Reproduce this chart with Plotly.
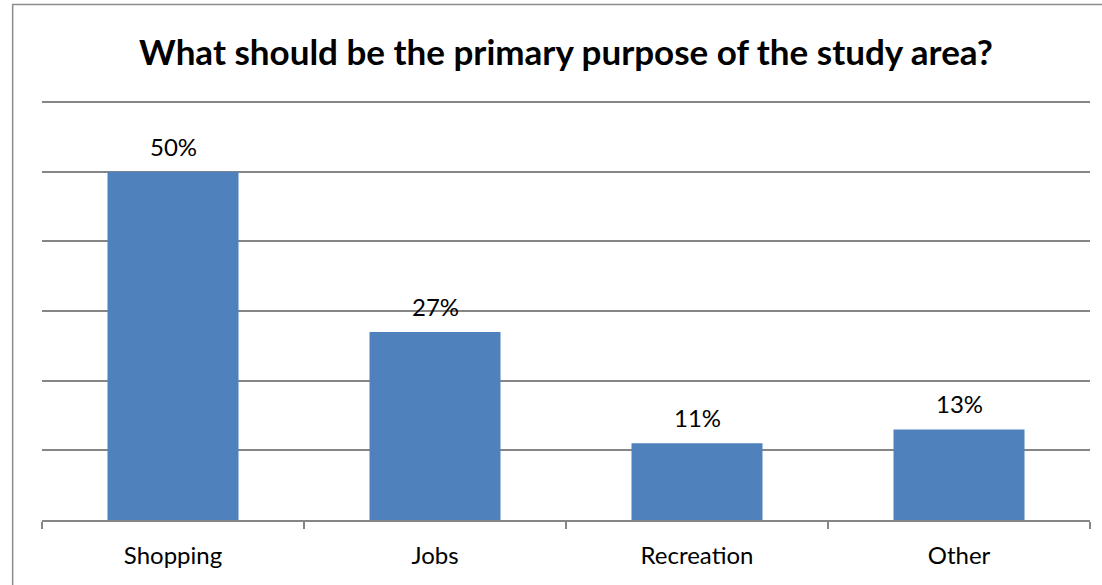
import plotly.graph_objects as go

categories = ["Shopping", "Jobs", "Recreation", "Other"]
shares = [50, 27, 11, 13]
value_labels = ["50%", "27%", "11%", "13%"]

BAR_COLOR = "#4F81BD"
GRID_COLOR = "#868686"
FONT = "Lato"

fig = go.Figure(
    go.Bar(
        x=categories,
        y=shares,
        marker=dict(color=BAR_COLOR, line=dict(width=0)),
        width=0.5,
        hoverinfo="skip",
    )
)

# value labels above each bar
for cat, val, txt in zip(categories, shares, value_labels):
    fig.add_annotation(
        x=cat, y=val, text=txt, showarrow=False,
        yanchor="bottom", yshift=9,
        font=dict(family=FONT, size=24, color="#000000"),
    )

# outer chart border
fig.add_shape(
    type="rect", xref="paper", yref="paper",
    x0=-0.028, x1=1.2, y0=-0.5, y1=1.213,
    line=dict(color="#8C8C8C", width=1.5), layer="below",
)

fig.update_layout(
    width=1102, height=585,
    margin=dict(l=42, r=12, t=95, b=65),
    paper_bgcolor="white", plot_bgcolor="white",
    showlegend=False,
    title=dict(
        text="<b>What should be the primary purpose of the study area?</b>",
        x=0.5, xref="paper", xanchor="center",
        y=1 - 53 / 585, yref="container", yanchor="middle",
        font=dict(family=FONT, size=35, color="#000000"),
    ),
    font=dict(family=FONT, size=24, color="#000000"),
)

fig.update_xaxes(
    showline=True, linecolor=GRID_COLOR, linewidth=1.5,
    ticks="outside", tickson="boundaries", ticklen=7, tickcolor=GRID_COLOR, tickwidth=1.5,
    ticklabelstandoff=13,
    showgrid=False, tickfont=dict(family=FONT, size=24, color="#000000"),
    fixedrange=True,
)
fig.update_yaxes(
    range=[0, 61], tick0=0, dtick=10, showticklabels=False,
    showgrid=True, gridcolor=GRID_COLOR, gridwidth=1.5,
    zeroline=False, showline=False, fixedrange=True,
)

fig.write_html("out.html")
